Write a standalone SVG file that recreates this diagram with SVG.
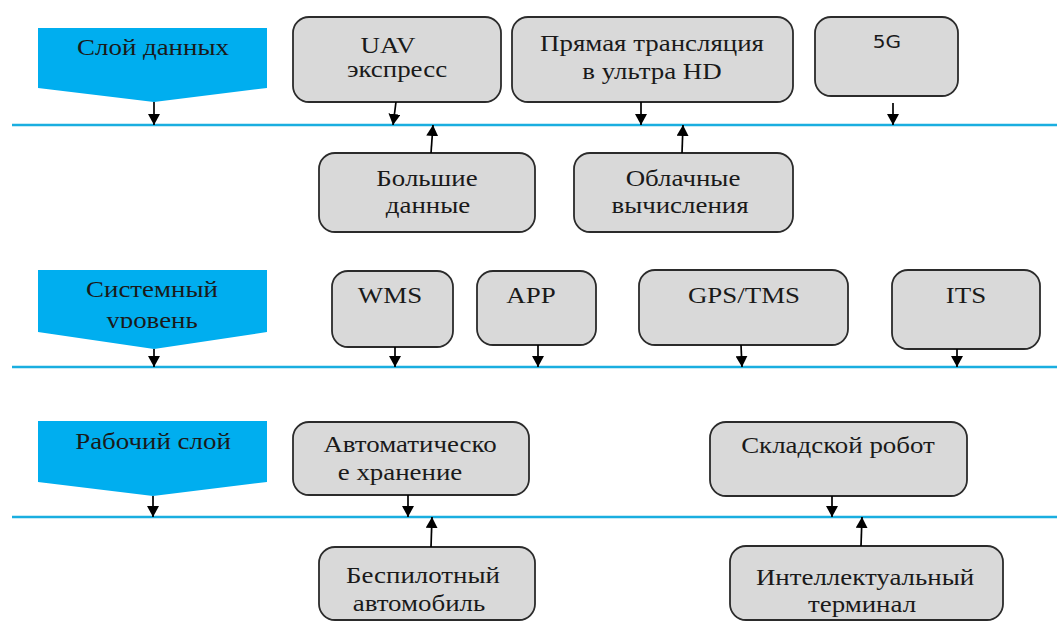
<svg xmlns="http://www.w3.org/2000/svg" width="1057" height="622" viewBox="0 0 1057 622">
<defs>
<marker id="ah" viewBox="0 0 11 12" refX="11" refY="6" markerWidth="11" markerHeight="12" markerUnits="userSpaceOnUse" orient="auto">
<path d="M0,0 L11,6 L0,12 z" fill="#000"/>
</marker>
<clipPath id="clipP2"><rect x="30" y="260" width="250" height="68"/></clipPath>
</defs>
<style>
.layer{fill:#00AEEF;stroke:none}
.box{fill:#D9D9D9;stroke:#2b2b2b;stroke-width:1.8}
.bus{stroke:#1AAEE0;stroke-width:2.6;fill:none}
.ar{stroke:#000;stroke-width:1.7;fill:none;marker-end:url(#ah)}
.t{font-family:"Liberation Serif","Times New Roman",serif;font-size:23px;fill:#1a1a1a;text-anchor:middle}
.s{font-family:"DejaVu Sans",sans-serif;font-size:17.5px;fill:#1a1a1a;text-anchor:middle}
</style>
<rect width="1057" height="622" fill="#fff"/>
<g id="buses">
<line class="bus" x1="12" y1="125" x2="1057" y2="125"/>
<line class="bus" x1="12" y1="367" x2="1057" y2="367"/>
<line class="bus" x1="12" y1="517" x2="1057" y2="517"/>
</g>
<g id="layer-data">
<polygon class="layer" points="38,28 267,28 267,88 154,102 38,88"/>
<text class="t" transform="translate(153 55) scale(1.17 1)">Слой данных</text>
</g>
<g id="layer-system">
<polygon class="layer" points="38,270 267,270 267,332 154,349 38,332"/>
<text class="t" transform="translate(152 297) scale(1.17 1)">Системный</text>
<g clip-path="url(#clipP2)"><text class="t" transform="translate(152 328) scale(1.17 1)">уровень</text></g>
</g>
<g id="layer-work">
<polygon class="layer" points="38,421 267,421 267,482 153,496 38,482"/>
<text class="t" transform="translate(153 449) scale(1.17 1)">Рабочий слой</text>
</g>
<g id="uav">
<rect class="box" x="293" y="17" width="208" height="85" rx="16"/>
<text class="t" transform="translate(388 53) scale(1.17 1)">UAV</text>
<text class="t" transform="translate(397 77) scale(1.17 1)">экспресс</text>
</g>
<g id="uhd">
<rect class="box" x="512" y="17" width="281" height="85" rx="16"/>
<text class="t" transform="translate(652 51) scale(1.17 1)">Прямая трансляция</text>
<text class="t" transform="translate(652 79) scale(1.17 1)">в ультра HD</text>
</g>
<g id="fiveg">
<rect class="box" x="815" y="17" width="143" height="79" rx="16"/>
<text class="s" transform="translate(887 48) scale(1.15 1)">5G</text>
</g>
<g id="bigdata">
<rect class="box" x="319" y="153" width="216" height="79" rx="16"/>
<text class="t" transform="translate(427 186) scale(1.17 1)">Большие</text>
<text class="t" transform="translate(428 213) scale(1.17 1)">данные</text>
</g>
<g id="cloud">
<rect class="box" x="574" y="153" width="219" height="79" rx="16"/>
<text class="t" transform="translate(683 186) scale(1.17 1)">Облачные</text>
<text class="t" transform="translate(680 213) scale(1.17 1)">вычисления</text>
</g>
<g id="wms">
<rect class="box" x="332" y="271" width="121" height="76" rx="16"/>
<text class="t" transform="translate(390 303) scale(1.17 1)">WMS</text>
</g>
<g id="app">
<rect class="box" x="477" y="271" width="119" height="74" rx="16"/>
<text class="t" transform="translate(531 303) scale(1.17 1)">APP</text>
</g>
<g id="gps">
<rect class="box" x="639" y="270" width="209" height="75" rx="16"/>
<text class="t" transform="translate(744 303) scale(1.17 1)">GPS/TMS</text>
</g>
<g id="its">
<rect class="box" x="892" y="270" width="148" height="79" rx="16"/>
<text class="t" transform="translate(966 303) scale(1.17 1)">ITS</text>
</g>
<g id="autostore">
<rect class="box" x="293" y="422" width="236" height="73" rx="16"/>
<text class="t" transform="translate(410 452) scale(1.17 1)">Автоматическо</text>
<text class="t" transform="translate(400 480) scale(1.17 1)">е хранение</text>
</g>
<g id="robot">
<rect class="box" x="710" y="422" width="257" height="74" rx="16"/>
<text class="t" transform="translate(838 453) scale(1.17 1)">Складской робот</text>
</g>
<g id="driverless">
<rect class="box" x="319" y="547" width="216" height="73" rx="16"/>
<text class="t" transform="translate(423 583) scale(1.17 1)">Беспилотный</text>
<text class="t" transform="translate(419 611) scale(1.17 1)">автомобиль</text>
</g>
<g id="terminal">
<rect class="box" x="730" y="546" width="273" height="74" rx="16"/>
<text class="t" transform="translate(865 585) scale(1.17 1)">Интеллектуальный</text>
<text class="t" transform="translate(862 612) scale(1.17 1)">терминал</text>
</g>
<g id="connectors">
<line class="ar" x1="154" y1="102" x2="154" y2="125"/>
<line class="ar" x1="396" y1="102" x2="393" y2="125"/>
<line class="ar" x1="641" y1="102" x2="641" y2="125"/>
<line class="ar" x1="893" y1="103" x2="893" y2="125"/>
<line class="ar" x1="431" y1="153" x2="433" y2="125"/>
<line class="ar" x1="682" y1="153" x2="683" y2="125"/>
<line class="ar" x1="154" y1="349" x2="154" y2="367"/>
<line class="ar" x1="395" y1="347" x2="395" y2="367"/>
<line class="ar" x1="538" y1="345" x2="538" y2="367"/>
<line class="ar" x1="741" y1="345" x2="742" y2="367"/>
<line class="ar" x1="957" y1="349" x2="957" y2="367"/>
<line class="ar" x1="153" y1="496" x2="153" y2="517"/>
<line class="ar" x1="408" y1="495" x2="408" y2="517"/>
<line class="ar" x1="832" y1="496" x2="832" y2="517"/>
<line class="ar" x1="431" y1="547" x2="432" y2="517"/>
<line class="ar" x1="861" y1="546" x2="862" y2="517"/>
</g>
</svg>
